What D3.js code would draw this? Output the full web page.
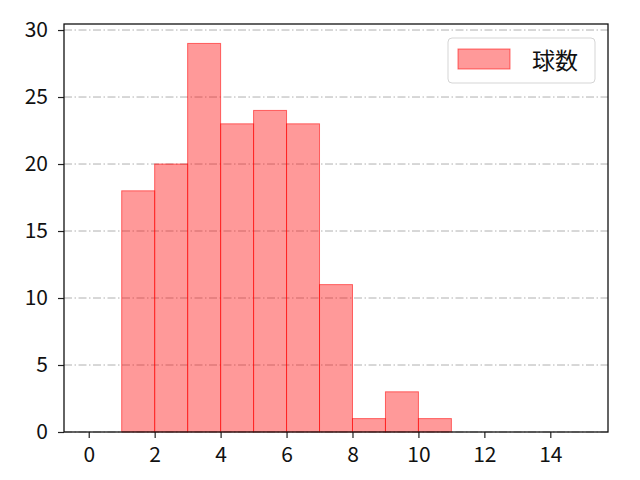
<!DOCTYPE html>
<html>
<head>
<meta charset="utf-8">
<script src="https://cdn.jsdelivr.net/npm/d3@7"></script>
<style>
  body { margin: 0; background: #fff; }
  text { font-family: "Noto Sans CJK JP", "DejaVu Sans", sans-serif; }
</style>
</head>
<body>
<div id="chart"></div>
<script>
// histogram bins (left edges) and counts
const binStarts = [1, 2, 3, 4, 5, 6, 7, 8, 9, 10];
const counts = [18, 20, 29, 23, 24, 23, 11, 1, 3, 1];
const xTicks = [0, 2, 4, 6, 8, 10, 12, 14];
const yTicks = [0, 5, 10, 15, 20, 25, 30];
const seriesName = '球数';

const width = 640, height = 480;
const margin = { top: 24, right: 32, bottom: 48, left: 64 };

const svg = d3.select('#chart').append('svg')
  .attr('width', width)
  .attr('height', height);

const x = d3.scaleLinear()
  .domain([-0.75, 15.75])
  .range([margin.left, width - margin.right]);

const y = d3.scaleLinear()
  .domain([0, 30.45])
  .range([height - margin.bottom, margin.top]);

// grid
svg.append('g')
  .selectAll('line')
  .data(yTicks)
  .join('line')
  .attr('x1', margin.left)
  .attr('x2', width - margin.right)
  .attr('y1', d => y(d))
  .attr('y2', d => y(d))
  .attr('stroke', '#b0b0b0')
  .attr('stroke-width', 1)
  .attr('stroke-dasharray', '8,2.5,1.5,2.5');

// bars
svg.append('g')
  .selectAll('rect')
  .data(binStarts)
  .join('rect')
  .attr('x', d => x(d))
  .attr('y', (d, i) => y(counts[i]))
  .attr('width', d => x(d + 1) - x(d))
  .attr('height', (d, i) => y(0) - y(counts[i]))
  .attr('fill', 'rgba(255,0,0,0.4)')
  .attr('stroke', 'rgba(255,0,0,0.55)')
  .attr('stroke-width', 1);

// axes
const xAxis = svg.append('g')
  .attr('transform', `translate(0,${height - margin.bottom})`)
  .call(d3.axisBottom(x).tickValues(xTicks).tickSize(6).tickPadding(9).tickFormat(d3.format('d')));

const yAxis = svg.append('g')
  .attr('transform', `translate(${margin.left},0)`)
  .call(d3.axisLeft(y).tickValues(yTicks).tickSize(6).tickPadding(10).tickFormat(d3.format('d')));

[xAxis, yAxis].forEach(a => {
  a.select('.domain').remove();
  a.selectAll('line').attr('stroke', '#222').attr('stroke-width', 1.2);
  a.selectAll('text')
    .attr('fill', '#111')
    .style('font-size', '21px')
    .style('font-family', '"Noto Sans CJK JP", sans-serif');
});

// frame
svg.append('rect')
  .attr('x', margin.left)
  .attr('y', margin.top)
  .attr('width', width - margin.left - margin.right)
  .attr('height', height - margin.top - margin.bottom)
  .attr('fill', 'none')
  .attr('stroke', '#111')
  .attr('stroke-width', 1.3);

// legend
const legend = svg.append('g').attr('transform', 'translate(448,38)');
legend.append('rect')
  .attr('width', 147)
  .attr('height', 45)
  .attr('rx', 4)
  .attr('fill', 'rgba(255,255,255,0.8)')
  .attr('stroke', '#d5d5d5');
legend.append('rect')
  .attr('x', 10)
  .attr('y', 11)
  .attr('width', 52)
  .attr('height', 20)
  .attr('fill', 'rgba(255,0,0,0.4)')
  .attr('stroke', 'rgba(255,0,0,0.55)');
legend.append('text')
  .attr('x', 84)
  .attr('y', 31)
  .attr('fill', '#111')
  .style('font-size', '23px')
  .text(seriesName);
</script>
</body>
</html>
